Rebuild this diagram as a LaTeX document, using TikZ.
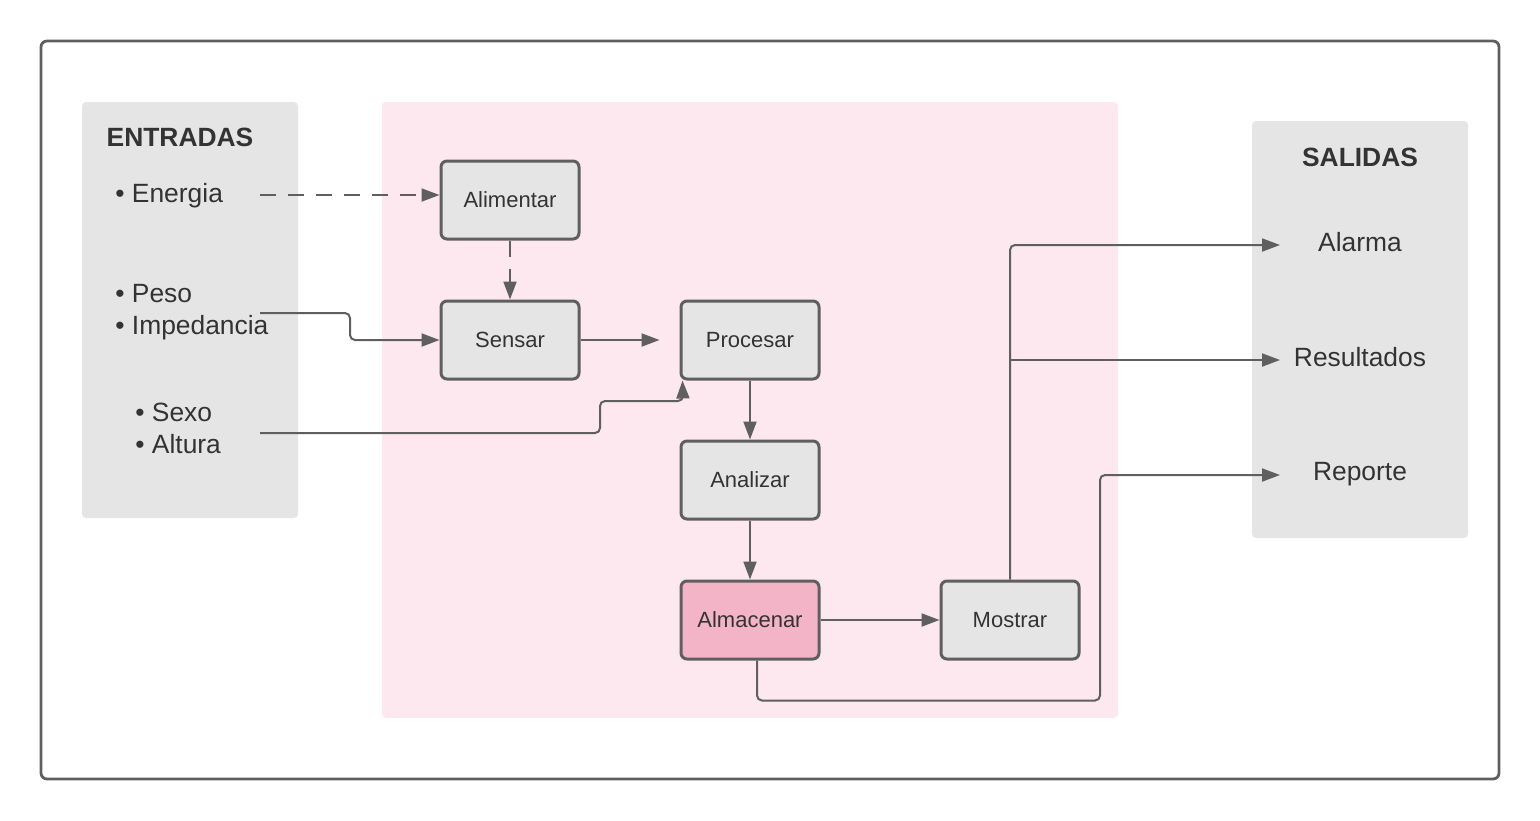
\documentclass[tikz,border=0pt]{standalone}
\usepackage{fontspec}
\setmainfont{Liberation Sans}
\usetikzlibrary{positioning, arrows.meta, backgrounds}

\definecolor{linegray}{HTML}{5F5F5F}
\definecolor{textgray}{HTML}{333333}
\definecolor{panelgray}{HTML}{E5E5E5}
\definecolor{pinkbg}{HTML}{FCE8EE}
\definecolor{pinkbox}{HTML}{F4B4C8}

\begin{document}
\begin{tikzpicture}[
    x=0.5pt, y=-0.5pt,
    >={Triangle[length=9pt, width=6.5pt]},
    font=\fontsize{11}{13}\selectfont,
    text=textgray,
    stepbox/.style={
        draw=linegray, fill=panelgray, line width=1.5pt,
        rounded corners=3pt, inner sep=0pt,
        minimum width=69pt, minimum height=39pt,
    },
    storebox/.style={stepbox, fill=pinkbox},
    panel/.style={fill=panelgray, rounded corners=2pt},
    zone/.style={fill=pinkbg, rounded corners=2pt},
    frame/.style={draw=linegray, line width=1.4pt, rounded corners=3pt},
    paneltitle/.style={font=\fontsize{13.2}{16}\selectfont\bfseries, inner sep=0pt},
    item/.style={font=\fontsize{13.2}{16}\selectfont, align=left, inner sep=0pt, anchor=west},
    outitem/.style={font=\fontsize{13.2}{16}\selectfont, inner sep=0pt},
    arrow/.style={->, line width=1pt, draw=linegray, rounded corners=2.5pt},
    darrow/.style={arrow, dash pattern=on 8pt off 6pt},
]
\useasboundingbox (0,0) rectangle (1540,820);

% ============ FRAME + PANELS ============
\draw[frame] (41,41) rectangle (1499,779);
\fill[panel] (82,102) rectangle (298,518);
\fill[zone]  (382,102) rectangle (1118,718);
\fill[panel] (1252,121) rectangle (1468,538);

% ============ INPUTS ============
\node[paneltitle] (entradas) at (180,137) {ENTRADAS};
\node[item] (energia) at (115,196) {\textbullet\ Energia};
\node[item] (peso)    at (115,312) {\textbullet\ Peso\\\textbullet\ Impedancia};
\node[item] (sexo)    at (135,428) {\textbullet\ Sexo\\\textbullet\ Altura};

\coordinate (energiaout) at (260,195);
\coordinate (pesoout)    at (260,313);
\coordinate (sexoout)    at (260,433);

% ============ PROCESS STEPS ============
\node[stepbox]  (alimentar) at (510,200)  {Alimentar};
\node[stepbox]  (sensar)    at (510,340)  {Sensar};
\node[stepbox]  (procesar)  at (750,340)  {Procesar};
\node[stepbox]  (analizar)  at (750,480)  {Analizar};
\node[storebox] (almacenar) at (750,620)  {Almacenar};
\node[stepbox]  (mostrar)   at (1010,620) {Mostrar};

% ============ OUTPUTS ============
\node[paneltitle] (salidas)    at (1360,157) {SALIDAS};
\node[outitem]    (alarma)     at (1360,242) {Alarma};
\node[outitem]    (resultados) at (1360,357) {Resultados};
\node[outitem]    (reporte)    at (1360,474) {Reporte};

\coordinate (alarmain)  at (1280,245);
\coordinate (resin)     at (1280,360);
\coordinate (reportein) at (1280,475);
\coordinate (split)     at (mostrar.north |- resin);

% ============ ARROWS ============
\draw[darrow] (energiaout) -- (energiaout -| alimentar.west);
\draw[darrow] (alimentar.south) -- (sensar.north);

\draw[arrow] (pesoout) -- ++(90,0) -- ++(0,27) -- (sensar.west);
\draw[arrow, shorten >=10pt] (sensar.east) -- (procesar.west);
\draw[arrow] (sexoout) -- ++(340,0) -- ++(0,-32) -- ++(83,0)
    -- ([xshift=1.5pt]procesar.south west);

\draw[arrow] (procesar.south) -- (analizar.north);
\draw[arrow] (analizar.south) -- (almacenar.north);
\draw[arrow] (almacenar.east) -- (mostrar.west);

% Mostrar fans out to Alarma and Resultados
\draw[arrow] (mostrar.north) |- (alarmain);
\draw[arrow] (split) -- (resin);

% Almacenar loops under Mostrar to Reporte
\draw[arrow] ([xshift=3.5pt]almacenar.south) -- ++(0,40) -- ++(343,0)
    |- (reportein);

\end{tikzpicture}
\end{document}
